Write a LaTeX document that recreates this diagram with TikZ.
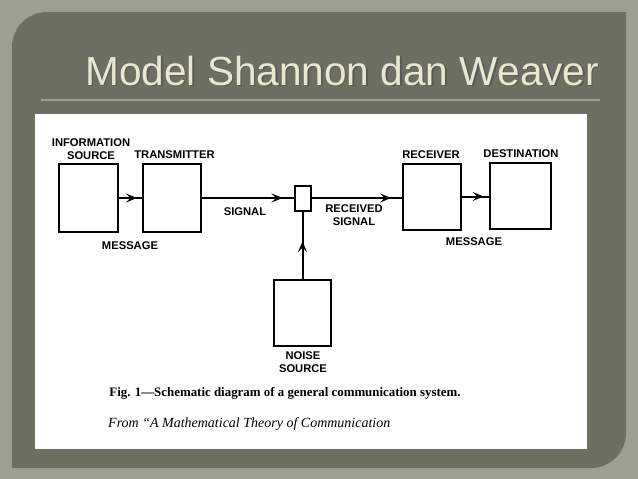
\documentclass[tikz,border=0pt]{standalone}
\usepackage{fontspec}
\setmainfont{Liberation Serif}
\newfontfamily\labfont{Liberation Sans}
\newfontfamily\titlefont{Liberation Sans}
\usetikzlibrary{arrows.meta,decorations.markings}
\definecolor{outerbg}{RGB}{158,160,143}
\definecolor{panelbg}{RGB}{108,111,97}
\definecolor{titlecol}{RGB}{232,231,208}
\definecolor{rulecol}{RGB}{150,162,136}
\tikzset{
  blk/.style={draw=black, line width=2pt, inner sep=0pt},
  conn/.style={draw=black, line width=2pt},
  midarrow/.style={postaction={decorate}, decoration={markings,
      mark=at position #1 with {\arrow[line width=1.4pt]{Stealth[length=11pt,width=9pt,inset=4.5pt]}}}},
  lab/.style={font=\labfont\bfseries\fontsize{11.2}{12.5}\selectfont, inner sep=0pt, align=center},
}
\begin{document}
\begin{tikzpicture}[x=1pt,y=-1pt]
\useasboundingbox (0,0) rectangle (638,479);
\fill[outerbg] (0,0) rectangle (638,479);
% panel
\fill[panelbg] (12,240) [rounded corners=35pt] -- (12,12) -- (300,12) [sharp corners] -- (626,12) -- (626,240)
  [rounded corners=35pt] -- (626,468) -- (300,468) [sharp corners] -- (12,468) -- cycle;
% title
\node[anchor=base west, inner sep=0pt, text=black!70, opacity=0.6, font=\titlefont\fontsize{40.6}{40.6}\selectfont] (titleshadow) at (86.5,86.5) {Model Shannon dan Weaver};
\node[anchor=base west, inner sep=0pt, text=titlecol, font=\titlefont\fontsize{40.6}{40.6}\selectfont] (title) at (85,85) {Model Shannon dan Weaver};
\draw[rulecol, line width=1.5pt] (41,100) -- (600,100);
% white image
\fill[white] (35,114) rectangle (587,449);
% boxes
\node[blk, minimum width=59pt, minimum height=68pt] (info) at (88.5,198) {};
\node[blk, minimum width=58pt, minimum height=68pt] (trans) at (172,198) {};
\node[blk, minimum width=16pt, minimum height=25pt] (small) at (302.5,198) {};
\node[blk, minimum width=58pt, minimum height=66pt] (recv) at (432,196.5) {};
\node[blk, minimum width=61pt, minimum height=66pt] (dest) at (520.5,195.5) {};
\node[blk, minimum width=57pt, minimum height=66pt] (noise) at (302.5,313) {};
% connectors
\draw[conn, midarrow=0.78] (info.east) -- (trans.west);
\draw[conn, midarrow=0.88] (trans.east) -- (small.west);
\draw[conn, midarrow=0.88] (small.east) -- (small.east -| recv.west);
\draw[conn, midarrow=0.8] (recv.east) -- (recv.east -| dest.west);
\draw[conn, midarrow=0.56] (noise.north) -- (small.south);
% labels
\node[lab] (linfo) at (91,149) {INFORMATION\\SOURCE};
\node[lab] (ltrans) at (174.5,155) {TRANSMITTER};
\node[lab] (lsig) at (245,212) {SIGNAL};
\node[lab] (lmsg1) at (130,246) {MESSAGE};
\node[lab] (lrsig) at (354,215) {RECEIVED\\SIGNAL};
\node[lab] (lrecv) at (431,155) {RECEIVER};
\node[lab] (ldest) at (521,154) {DESTINATION};
\node[lab] (lmsg2) at (474,242) {MESSAGE};
\node[lab] (lnoise) at (303,362) {NOISE\\SOURCE};
% captions
\node[inner sep=0pt, font=\bfseries\fontsize{12.9}{15}\selectfont] (cap) at (285,393) {Fig. 1---Schematic diagram of a general communication system.};
\node[anchor=west, inner sep=0pt, font=\itshape\fontsize{14}{16}\selectfont] (src) at (108,424) {From “A Mathematical Theory of Communication};
\end{tikzpicture}
\end{document}
